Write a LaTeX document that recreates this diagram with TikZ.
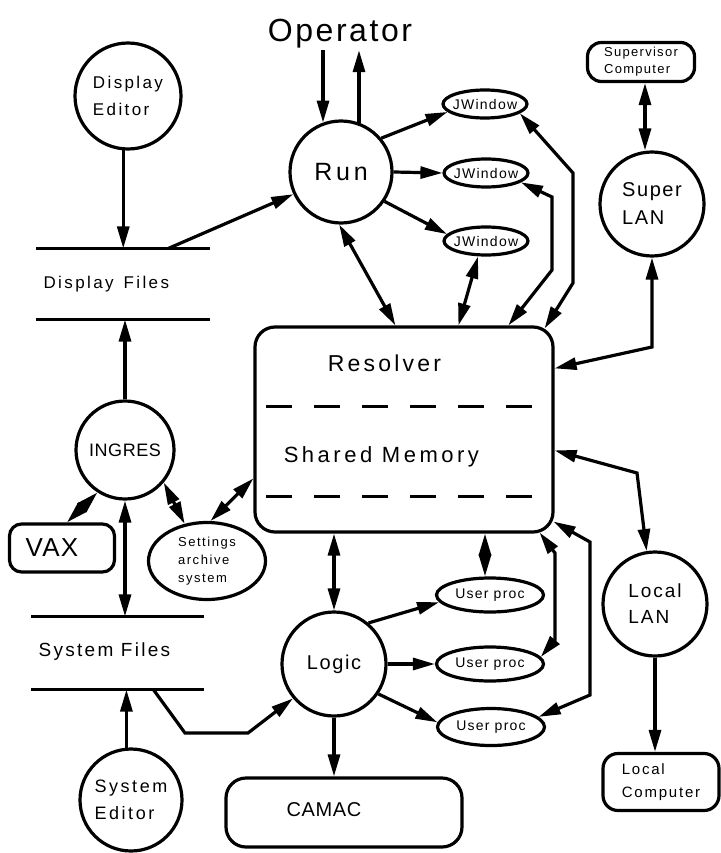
\documentclass[tikz,border=0pt]{standalone}
\usepackage{fontspec}
\setmainfont{Liberation Sans}
\usetikzlibrary{arrows.meta,shapes.geometric,calc}
\newcommand\tf[3]{\fontsize{#1}{#2}\selectfont\addfontfeatures{LetterSpace=#3}}
\begin{document}
\begin{tikzpicture}[x=1pt,y=-1pt,line width=3.2pt,
  >={Triangle[length=22pt,width=12pt]},
  proc/.style={circle,draw,inner sep=0pt,align=left},
  rbox/.style={rectangle,draw,inner sep=0pt},
  jwin/.style={ellipse,draw,minimum width=84,minimum height=28,inner sep=0pt},
  uproc/.style={ellipse,draw,minimum width=107,minimum height=34,inner sep=0pt},
  small/.style={font=\tf{14}{16}{9},inner sep=0pt},
  store/.style={inner sep=0pt}]
\useasboundingbox[fill=white] (0,0) rectangle (720,853);

% nodes
\node[font=\tf{32}{38}{8},inner sep=0pt,anchor=base] (op) at (340,42) {Operator};
\node[proc,minimum size=102,font=\tf{25}{30}{15}] (run) at (341,172) {Run};
\node[jwin] (jw1) at (485,104) {};
\node[jwin] (jw2) at (486,173) {};
\node[jwin] (jw3) at (486,241) {};
\node[small] (tjw1) at (jw1) {JWindow};
\node[small] (tjw2) at (jw2) {JWindow};
\node[small] (tjw3) at (jw3) {JWindow};
\node[rbox,minimum width=107,minimum height=39,rounded corners=14,font=\tf{13}{17}{10},align=left] (supc) at (641,62) {Supervisor\\Computer};
\node[proc,minimum size=104,font=\tf{20}{28}{8}] (slan) at (652,204) {Super\\LAN};
\node[proc,minimum size=106,font=\tf{17}{27}{14}] (ded) at (128,96) {Display\\Editor};
\node[store,minimum width=170,minimum height=68] (dfiles) at (123,284) {};
\draw (dfiles.north west) -- (dfiles.north east) (dfiles.south west) -- (dfiles.south east);
\node[anchor=west,font=\tf{17}{20}{14},inner sep=0pt] (tdf) at (42,284) {Display\hspace{10pt}Files};
\node[proc,minimum size=98,font=\tf{18}{22}{3}] (ingres) at (125,450) {INGRES};
\node[rbox,minimum width=105,minimum height=48,rounded corners=12] (vax) at (62,548) {};
\node[font=\tf{26}{30}{5},inner sep=0pt] (tvax) at ($(vax)+(-10,0)$) {VAX};
\node[ellipse,draw,minimum width=117,minimum height=77,inner sep=0pt] (set) at (207,561) {};
\node[align=left,font=\tf{13}{18}{12},inner sep=0pt] (tset) at (set) {Settings\\archive\\system};
\node[rbox,minimum width=298,minimum height=205,rounded corners=20] (res) at (404,429.5) {};
\node[font=\tf{23}{28}{14},inner sep=0pt] (tres) at ($(res.north west)+(131,38)$) {Resolver};
\node[font=\tf{22}{26}{16},inner sep=0pt] (tshm) at ($(res.north west)+(128,131)$) {Shared Memory};
\draw[dash pattern=on 26pt off 22pt] ($(res.north west)+(13,81)$) -- ($(res.north east)+(-23,81)$);
\draw[dash pattern=on 26pt off 22pt] ($(res.north west)+(13,171)$) -- ($(res.north east)+(-23,171)$);
\node[store,minimum width=169,minimum height=70] (sfiles) at (117.5,653) {};
\draw (sfiles.north west) -- (sfiles.north east) (sfiles.south west) -- (sfiles.south east);
\node[anchor=west,font=\tf{19}{22}{12},inner sep=0pt] (tsf) at (37,652) {System Files};
\node[proc,minimum size=102,font=\tf{18}{27}{14}] (sed) at (131,800) {System\\Editor};
\node[proc,minimum size=104,font=\tf{20}{24}{8}] (logic) at (334,664) {Logic};
\node[rbox,minimum width=236,minimum height=69,rounded corners=20] (camac) at (344,812.5) {};
\node[font=\tf{20}{24}{3},inner sep=0pt] (tcamac) at ($(camac)+(-20,-3)$) {CAMAC};
\node[uproc] (up1) at (490,595) {};
\node[uproc] (up2) at (490,664) {};
\node[uproc,minimum height=37] (up3) at (491,727) {};
\node[small] (tup1) at (up1) {User proc};
\node[small] (tup2) at (up2) {User proc};
\node[small] (tup3) at (up3) {User proc};
\node[proc,minimum size=104,font=\tf{19}{26}{10}] (llan) at (655,604) {Local\\LAN};
\node[rbox,minimum width=116,minimum height=57,rounded corners=15,font=\tf{15}{23}{12},align=left] (lcomp) at (661,782) {Local\\Computer};

% connectors
\draw[->] (op.south -| run.110) -- (run.110);
\draw[->] (run.70) -- (run.70 |- op.south);
\draw[->] (run.40) -- (jw1.192);
\draw[->] (run.east) -- (jw2.west);
\draw[->] (run.-34) -- (jw3.170);
\draw[<->] (run.-92) -- ($(res.north west)+(142,0)$);
\draw[<->] ($(jw3.south)+(-8,0)$) -- ($(res.north west)+(205,0)$);
\draw[<->] (jw2.-15) -- (552,197) -- (552,270) -- ($(res.north west)+(255,0)$);
\draw[<->] (jw1.-15) -- (573,173) -- (573,283) -- ($(res.north east)+(-10,3)$);
\draw[<->] (slan.south) -- (652,347) -- ($(res.north east)+(0,43)$);
\coordinate (sc) at ($(supc.south)+(4,0)$);
\draw[<->] (sc) -- (sc |- slan.north);
\draw[<->] ($(res.north east)+(0,125)$) -- (637,473) -- (llan.99);
\draw[->] (llan.south) -- (llan.south |- lcomp.north);
\draw[->] (ded.-95) -- (ded.-95 |- dfiles.north);
\draw[->] ($(dfiles.north west)+(132,0)$) -- (run.205);
\draw[->] (ingres.north) -- (ingres.north |- dfiles.south);
\draw[<->] (ingres.-123) -- ($(vax.north)+(5,0)$);
\draw[<->] (ingres.-40) -- (set.121);
\draw[<->] (set.85) -- ($(res.north west)+(0,153)$);
\draw[<->] (ingres.south) -- (ingres.south |- sfiles.north);
\draw[->] (sed.95) -- (sed.95 |- sfiles.south);
\draw[->] ($(sfiles.south west)+(122,0)$) -- (185,733) -- (248,733) -- (logic.220);
\draw[<->] (logic.north |- res.south) -- (logic.north);
\draw[->] (logic.south) -- (logic.south |- camac.north);
\draw[->] (logic.50) -- (up1.188);
\draw[->] (logic.east) -- (up2.west);
\draw[->] (logic.-34) -- (up3.175);
\coordinate (u1) at ($(up1.north)+(-5,0)$);
\draw[<->] (u1 |- res.south) -- (u1);
\draw[<->] ($(res.south east)+(-15,-1)$) -- (555,553) -- (555,640) -- (up2.8);
\draw[<->] ($(res.south east)+(-1,-12)$) -- (590,542) -- (590,695) -- (up3.12);
\end{tikzpicture}
\end{document}
